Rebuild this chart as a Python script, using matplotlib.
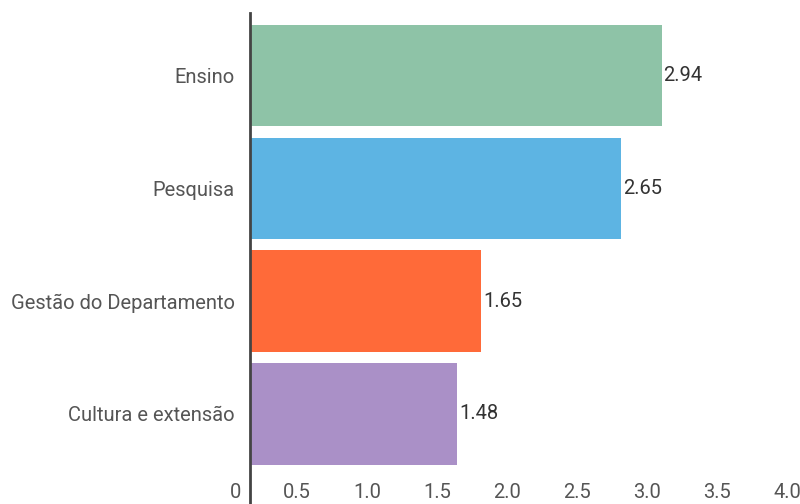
import matplotlib
matplotlib.use("Agg")
import matplotlib.pyplot as plt
from matplotlib.transforms import ScaledTranslation, blended_transform_factory

categories = ["Ensino", "Pesquisa", "Gestão do Departamento", "Cultura e extensão"]
values = [2.94, 2.65, 1.65, 1.48]
colours = ["#8ec3a7", "#5db4e3", "#ff6a39", "#aa90c7"]
xticks = [0, 0.5, 1.0, 1.5, 2.0, 2.5, 3.0, 3.5, 4.0]
xtick_labels = ["0", "0.5", "1.0", "1.5", "2.0", "2.5", "3.0", "3.5", "4.0"]

plt.rcParams["font.family"] = ["Roboto", "DejaVu Sans"]

fig = plt.figure(figsize=(8.0, 5.04), dpi=100)
# axis runs a little past the right edge of the picture, as in the original
ax = fig.add_axes([250 / 800, 0, 560 / 800, 1 - 13 / 504])

pos = list(range(len(categories)))
ax.barh(pos, values, height=0.9, color=colours, zorder=2)
ax.set_xlim(0, 4.0)
ax.set_ylim(3 + 90 / 112.8, -62.5 / 112.8)

for spine in ("top", "right", "bottom"):
    ax.spines[spine].set_visible(False)
ax.spines["left"].set_color("#444444")
ax.spines["left"].set_linewidth(2)
ax.spines["left"].set_zorder(3)

ax.set_yticks(pos)
ax.set_yticklabels(categories, fontsize=14.5, color="#555555")
ax.tick_params(axis="y", length=0, pad=11)
ax.set_xticks([])

for p, v in zip(pos, values):
    ax.annotate(f"{v:.2f}", (v, p), xytext=(2, 0), textcoords="offset pixels",
                va="center", ha="left", fontsize=14.5, color="#333333")

# x tick labels sit inside the plot area, right-aligned just left of each tick
trans = blended_transform_factory(ax.transData, fig.transFigure)
for t, lab in zip(xticks, xtick_labels):
    ax.text(t, 11 / 504, lab, transform=trans + ScaledTranslation(-9 / 100, 0, fig.dpi_scale_trans),
            ha="right", va="center", fontsize=14.5, color="#555555", clip_on=False)

fig.savefig("out.png", dpi=100)
